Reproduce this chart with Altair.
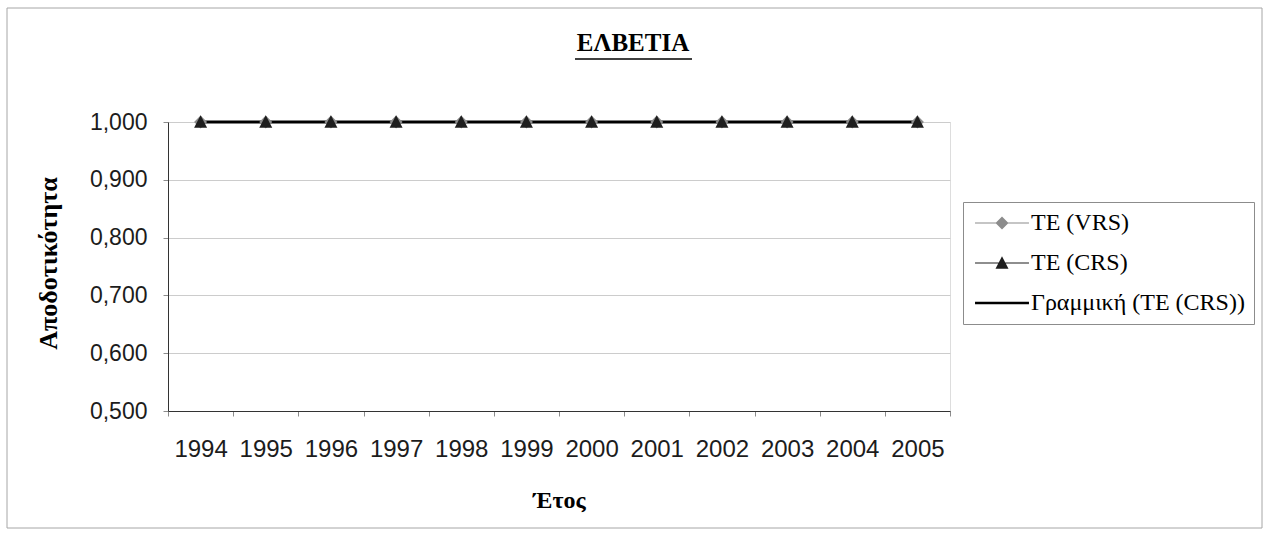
import altair as alt
import pandas as pd

# Technical efficiency scores for Switzerland, 1994-2005
years = [1994, 1995, 1996, 1997, 1998, 1999, 2000, 2001, 2002, 2003, 2004, 2005]
te_vrs = [1.000, 1.000, 1.000, 1.000, 1.000, 1.000, 1.000, 1.000, 1.000, 1.000, 1.000, 1.000]
te_crs = [1.000, 1.000, 1.000, 1.000, 1.000, 1.000, 1.000, 1.000, 1.000, 1.000, 1.000, 1.000]
trend_crs = [1.000, 1.000, 1.000, 1.000, 1.000, 1.000, 1.000, 1.000, 1.000, 1.000, 1.000, 1.000]

series_names = ["TE (VRS)", "TE (CRS)", "Γραμμική (TE (CRS))"]
y_ticks = [0.5, 0.6, 0.7, 0.8, 0.9, 1.0]
chart_title = "ΕΛΒΕΤΙΑ"

points = pd.DataFrame(
    {
        "year": years * 2,
        "value": te_vrs + te_crs,
        "series": [series_names[0]] * len(years) + [series_names[1]] * len(years),
    }
)
trend = pd.DataFrame({"year": years, "value": trend_crs, "series": series_names[2]})

SERIF = "Liberation Serif"
SANS = "Liberation Sans"

# marker shapes (unit square scaled by mark size)
DIAMOND = "M0,-1L1,0L0,1L-1,0Z"
TRIANGLE = "M0,-1.05L1,0.9L-1,0.9Z"
# legend glyphs: a short line with the marker in the middle
SEG = "M-4.15,-0.07H4.15V0.07H-4.15Z"
LEG_SHAPES = [SEG + DIAMOND, SEG + TRIANGLE, "M-4.15,-0.2H4.15V0.2H-4.15Z"]

x_enc = alt.X(
    "year:O",
    scale=alt.Scale(type="band", domain=years, paddingInner=0, paddingOuter=0),
    axis=alt.Axis(
        title="Έτος",
        labelAngle=0,
        tickBand="extent",
        tickSize=5,
        tickColor="#8c8c8c",
        domainColor="#333333",
        labelFont=SANS,
        labelFontSize=24,
        labelColor="#1c1c1c",
        labelPadding=21,
        titleFont=SERIF,
        titleFontSize=24,
        titleFontWeight="bold",
        titleColor="black",
        titleBaseline="middle",
        titleY=89,
        grid=False,
    ),
)
y_enc = alt.Y(
    "value:Q",
    scale=alt.Scale(domain=[0.5, 1.0], nice=False, zero=False),
    axis=alt.Axis(
        title="Αποδοτικότητα",
        values=y_ticks,
        labelExpr="replace(format(datum.value, '.3f'), '.', ',')",
        tickSize=5,
        tickColor="#8c8c8c",
        domainColor="#333333",
        gridColor="#cccccc",
        labelFont=SANS,
        labelFontSize=23,
        labelColor="#1c1c1c",
        labelPadding=16,
        titleFont=SERIF,
        titleFontSize=26,
        titleFontWeight="bold",
        titleColor="black",
        titleAngle=270,
        titleX=-120,
        titleY=141,
        titleAlign="center",
        titleBaseline="middle",
    ),
)

# frame around the whole figure
frame = (
    alt.Chart(alt.Data(values=[{}]))
    .mark_rect(fill=None, stroke="#a6a6a6", strokeWidth=1)
    .encode(x=alt.value(-161), x2=alt.value(1094), y=alt.value(-114), y2=alt.value(406))
)

# chart heading with its underline
heading = (
    alt.Chart(alt.Data(values=[{"label": chart_title}]))
    .mark_text(
        font=SERIF,
        fontSize=25,
        fontWeight="bold",
        color="black",
        align="center",
        baseline="alphabetic",
    )
    .encode(text="label:N", x=alt.value(465), y=alt.value(-71))
)
underline = (
    alt.Chart(alt.Data(values=[{}]))
    .mark_rule(color="black", strokeWidth=1.5)
    .encode(x=alt.value(407), x2=alt.value(524), y=alt.value(-63))
)

series_lines = (
    alt.Chart(points)
    .mark_line(color="#555555", strokeWidth=1)
    .encode(x=x_enc, y=y_enc, detail="series:N")
)

trend_line = (
    alt.Chart(trend)
    .mark_line(color="black", strokeWidth=3)
    .encode(x=x_enc, y=y_enc)
)

vrs_points = (
    alt.Chart(points)
    .transform_filter(alt.datum.series == series_names[0])
    .mark_point(shape=DIAMOND, filled=True, size=169, color="#8c8c8c", opacity=1)
    .encode(x=x_enc, y=y_enc)
)

crs_points = (
    alt.Chart(points)
    .transform_filter(alt.datum.series == series_names[1])
    .mark_point(shape=TRIANGLE, filled=True, size=169, color="#1e1e1e", opacity=1)
    .encode(x=x_enc, y=y_enc)
)

legend = alt.Legend(
    title=None,
    orient="none",
    legendX=795,
    legendY=80,
    padding=9,
    strokeColor="#8c8c8c",
    fillColor="white",
    cornerRadius=0,
    symbolSize=169,
    symbolOffset=18,
    symbolOpacity=1,
    symbolStrokeWidth=0,
    labelOffset=17,
    rowPadding=16,
    labelFont=SERIF,
    labelFontSize=24,
    labelColor="black",
    labelLimit=400,
)

# carries the series key; its own marks are not shown
key_layer = (
    alt.Chart(points)
    .mark_point(filled=True, size=169, opacity=0)
    .encode(
        x=x_enc,
        y=y_enc,
        color=alt.Color(
            "series:N",
            scale=alt.Scale(domain=series_names, range=["#8c8c8c", "#1e1e1e", "#000000"]),
            legend=legend,
        ),
        shape=alt.Shape(
            "series:N",
            scale=alt.Scale(domain=series_names, range=LEG_SHAPES),
            legend=legend,
        ),
    )
)

chart = (
    alt.layer(frame, heading, underline, key_layer, series_lines, trend_line, vrs_points, crs_points)
    .properties(
        width=782,
        height=289,
        autosize="none",
        padding={"left": 168, "top": 122, "right": 317, "bottom": 123},
    )
    .configure_view(stroke="#8c8c8c", strokeWidth=1)
    .configure_text(font=SERIF)
    .configure(background="white")
)

chart.save("out.html", embed_options={"renderer": "svg", "actions": False})
